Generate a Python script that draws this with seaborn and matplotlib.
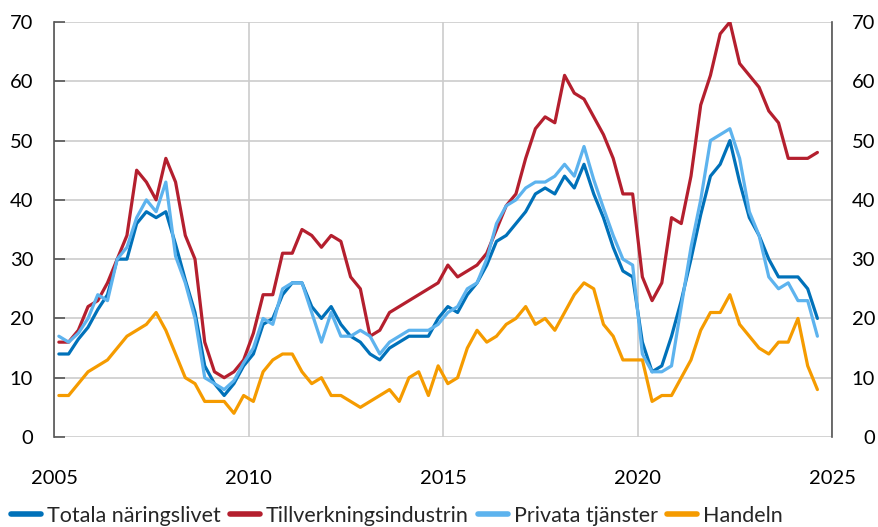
import numpy as np
import pandas as pd
import seaborn as sns
import matplotlib.pyplot as plt

# quarterly values, 2005Q1 - 2024Q3
totala = [14, 14, 16.5, 18.5, 21.5, 24, 30, 30, 36, 38, 37, 38, 32.5, 26.5, 21, 12, 9, 7, 9, 12,
          14, 19, 20, 24, 26, 26, 22, 20, 22, 19, 17, 16, 14, 13, 15, 16, 17, 17, 17, 20,
          22, 21, 24, 26, 29, 33, 34, 36, 38, 41, 42, 41, 44, 42, 46, 41, 37, 32, 28, 27,
          16, 11, 12, 17, 23, 30, 37.5, 44, 46, 50, 43, 37, 34, 30, 27, 27, 27, 25, 20]
tillverkning = [16, 16, 18, 22, 23, 26, 30, 34, 45, 43, 40, 47, 43, 34, 30, 16, 11, 10, 11, 13,
                17.5, 24, 24, 31, 31, 35, 34, 32, 34, 33, 27, 25, 17, 18, 21, 22, 23, 24, 25, 26,
                29, 27, 28, 29, 31, 35, 39, 41, 47, 52, 54, 53, 61, 58, 57, 54, 51, 47, 41, 41,
                27, 23, 26, 37, 36, 44, 56, 61, 68, 70, 63, 61, 59, 55, 53, 47, 47, 47, 48]
privata = [17, 16, 17.5, 20, 24, 23, 30, 32, 37, 40, 38, 43, 30.5, 26, 20, 10, 9, 8, 9.5, 12.5,
           15, 20, 19, 25, 26, 26, 21, 16, 21, 17, 17, 18, 17, 14, 16, 17, 18, 18, 18, 19,
           21, 22, 25, 26, 30, 36, 39, 40, 42, 43, 43, 44, 46, 44, 49, 43.4, 38.6, 34, 30, 29,
           14, 11, 11, 12, 22, 32, 40, 50, 51, 52, 47, 38, 34, 27, 25, 26, 23, 23, 17]
handeln = [7, 7, 9, 11, 12, 13, 15, 17, 18, 19, 21, 18, 14, 10, 9, 6, 6, 6, 4, 7,
           6, 11, 13, 14, 14, 11, 9, 10, 7, 7, 6, 5, 6, 7, 8, 6, 10, 11, 7, 12,
           9, 10, 15, 18, 16, 17, 19, 20, 22, 19, 20, 18, 21, 24, 26, 25, 19, 17, 13, 13,
           13, 6, 7, 7, 10, 13, 18, 21, 21, 24, 19, 17, 15, 14, 16, 16, 20, 12, 8]

names = ["Totala näringslivet", "Tillverkningsindustrin", "Privata tjänster", "Handeln"]
colors = ["#0071B9", "#B41F2E", "#5DB3EE", "#F59B00"]
yticks = [0, 10, 20, 30, 40, 50, 60, 70]
xticks = [2005, 2010, 2015, 2020, 2025]

quarters = pd.period_range("2005Q1", periods=len(totala), freq="Q")
xpos = quarters.year + (quarters.quarter - 1) / 4 + 0.125

frames = []
for name, vals in zip(names, [totala, tillverkning, privata, handeln]):
    frames.append(pd.DataFrame({"x": xpos, "value": vals, "serie": name}))
df = pd.concat(frames, ignore_index=True)

sns.set_theme(style="white")
plt.rcParams["font.family"] = ["Lato", "DejaVu Sans"]

fig = plt.figure(figsize=(8.79, 5.27), dpi=100)
ax = fig.add_axes([54 / 879, 1 - 437 / 527, (832 - 54) / 879, (437 - 22) / 527])

sns.lineplot(data=df, x="x", y="value", hue="serie", hue_order=names,
             palette=dict(zip(names, colors)), linewidth=2.3, ax=ax, legend=False)

ax.set_xlim(2005, 2025)
ax.set_ylim(0, 70)
ax.set_xticks(xticks)
ax.set_yticks(yticks)
ax.set_xlabel("")
ax.set_ylabel("")
ax.grid(True, color="#cccccc", linewidth=1.2)
ax.set_axisbelow(True)
for s in ["top", "bottom"]:
    ax.spines[s].set_visible(False)
for s in ["left", "right"]:
    ax.spines[s].set_color("#555555")
    ax.spines[s].set_linewidth(1.2)
ax.tick_params(axis="y", which="both", direction="in", length=8, width=1.2, color="#555555",
               left=True, right=True, labelleft=True, labelright=False, labelsize=14.5, pad=15,
               labelcolor="black")
ax.tick_params(axis="x", length=0, labelsize=14.5, pad=24, labelcolor="black")

# right-hand labels, right aligned like the original
ax2 = ax.twinx()
ax2.set_ylim(ax.get_ylim())
ax2.set_yticks(yticks)
ax2.tick_params(axis="y", length=0, labelsize=14.5, pad=31, labelcolor="black")
for lab in ax2.get_yticklabels():
    lab.set_horizontalalignment("right")
for s in ax2.spines.values():
    s.set_visible(False)
ax2.grid(False)

handles = [plt.Line2D([], [], color=c, linewidth=4) for c in colors]
fig.legend(handles, names, loc="center left", bbox_to_anchor=(0.0125, 0.021), ncol=4,
           frameon=False, fontsize=15.5, handlelength=1.4, handletextpad=0.28,
           columnspacing=0.42, borderaxespad=0, borderpad=0)

fig.savefig("out.png", dpi=100)
